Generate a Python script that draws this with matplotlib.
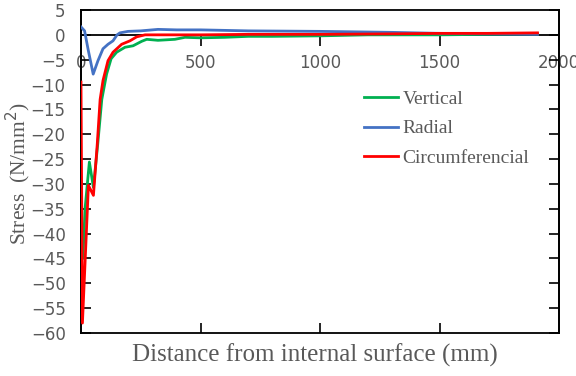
import matplotlib
matplotlib.use("Agg")
import matplotlib.pyplot as plt

# distance from internal surface (mm) and stresses (N/mm2)
vert_x = [0, 8, 17, 35, 52, 70, 87, 107, 126, 149, 184, 218, 254, 275, 322, 393, 435, 500,
          600, 700, 800, 1000, 1200, 1500, 1700, 1910]
vert_y = [-45, -45, -35, -25.6, -30.7, -22, -13, -7.9, -4.8, -3.5, -2.5, -2.2, -1.3, -0.9,
          -1.1, -0.9, -0.5, -0.6, -0.5, -0.3, -0.3, -0.2, 0.0, 0.0, 0.1, 0.2]

rad_x = [0, 15, 30, 51, 71, 92, 113, 134, 151, 163, 197, 250, 322, 400, 500, 700, 1000,
         1300, 1500, 1700, 1910]
rad_y = [1.6, 0.8, -3, -7.9, -5.2, -2.8, -1.9, -1.2, 0.0, 0.4, 0.7, 0.8, 1.1, 1.0, 1.0, 0.8,
         0.7, 0.5, 0.3, 0.2, 0.1]

circ_x = [0, 6, 31, 52, 68, 80, 92, 113, 134, 170, 205, 233, 268, 350, 500, 700, 1000,
          1300, 1500, 1700, 1910]
circ_y = [-9.5, -58, -30.3, -32.3, -22, -13, -9.2, -5.2, -3.5, -1.9, -1.2, -0.4, 0.0, 0.0,
          0.0, 0.1, 0.1, 0.2, 0.3, 0.3, 0.4]

xticks = [0, 500, 1000, 1500, 2000]
yticks = list(range(-60, 6, 5))

gray = "#595959"
fig = plt.figure(figsize=(5.76, 3.76), dpi=100)
pos = [81 / 576, 1 - 333 / 376, (559 - 81) / 576, (333 - 10) / 376]

# frame with inward ticks on the bottom edge
ax2 = fig.add_axes(pos)
ax2.set_xlim(0, 2000)
ax2.set_ylim(-60, 5)
ax2.set_xticks([500, 1000, 1500])
ax2.set_yticks([])
ax2.tick_params(axis="x", direction="in", length=7, width=1.2, labelbottom=False)
for s in ax2.spines.values():
    s.set_linewidth(1.3)

ax = fig.add_axes(pos, facecolor="none")
ax.plot(vert_x, vert_y, color="#00B050", lw=2, label="Vertical", zorder=3)
ax.plot(rad_x, rad_y, color="#4472C4", lw=2, label="Radial", zorder=3)
ax.plot(circ_x, circ_y, color="#FF0000", lw=2, label="Circumferencial", zorder=3)

ax.set_xlim(0, 2000)
ax.set_ylim(-60, 5)
ax.set_xticks(xticks)
ax.set_yticks(yticks)
ax.spines["bottom"].set_position(("data", 0))
for s in ax.spines.values():
    s.set_linewidth(1.3)
ax.spines["top"].set_visible(False)
ax.tick_params(axis="x", direction="out", length=8, width=1.2, pad=6,
               labelsize=12, labelcolor=gray)
ax.tick_params(axis="y", direction="in", length=7, width=1.2, pad=11,
               labelsize=12, labelcolor=gray, right=True)
ax.xaxis.get_ticklabels()[-1].set_clip_on(False)

serif = "Liberation Serif"
fig.text(18 / 576, 1 - 174 / 376, "Stress  (N/mm$^2$)", rotation=90, ha="center",
         va="center", fontfamily=serif, fontsize=15.5, color=gray)
fig.text(315 / 576, 1 - 355 / 376, "Distance from internal surface (mm)",
         ha="center", va="center", fontfamily=serif, fontsize=18, color=gray)

ax.legend(loc="upper left", bbox_to_anchor=(0.575, 0.775), frameon=False,
          prop={"family": serif, "size": 14}, labelcolor=gray, handlelength=1.75,
          labelspacing=0.6, handletextpad=0.25, borderaxespad=0)

fig.savefig("out.png", dpi=100)
